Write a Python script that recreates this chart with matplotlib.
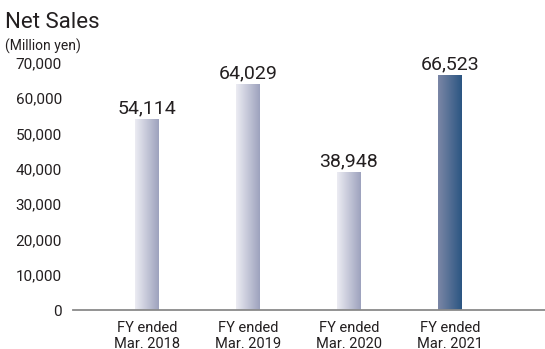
import numpy as np
import matplotlib
matplotlib.use("Agg")
import matplotlib.pyplot as plt
from matplotlib.colors import LinearSegmentedColormap
from matplotlib.lines import Line2D

categories = ["FY ended\nMar. 2018", "FY ended\nMar. 2019", "FY ended\nMar. 2020", "FY ended\nMar. 2021"]
values = [54114, 64029, 38948, 66523]
yticks = [0, 10000, 20000, 30000, 40000, 50000, 60000, 70000]

plt.rcParams['font.family'] = ['Roboto', 'DejaVu Sans']
txt = '#231f20'

fig = plt.figure(figsize=(5.45, 3.49), dpi=100)
ax = fig.add_axes([73/545, 1-310/349, 472/545, 247/349])

x = np.arange(len(values))
bars = ax.bar(x, values, width=0.23, color='none', edgecolor='none')

cm_light = LinearSegmentedColormap.from_list('l', ['#ececf3', '#9da2bd'])
cm_dark = LinearSegmentedColormap.from_list('d', ['#7b87a6', '#2b5582'])
grad = np.linspace(0, 1, 256).reshape(1, -1)
for i, b in enumerate(bars):
    cmap = cm_dark if i == len(bars) - 1 else cm_light
    x0, w, h = b.get_x(), b.get_width(), b.get_height()
    ax.imshow(grad, extent=[x0, x0 + w, 0, h], aspect='auto', cmap=cmap, zorder=2)
    ax.text(b.get_x() + w / 2, h + 600, f"{int(h):,}", ha='center', va='bottom',
            fontsize=14, color=txt)

ax.set_xlim(-0.73, -0.73 + 472/101)
ax.set_ylim(0, 70000)
ax.set_yticks(yticks)
ax.set_yticklabels([f"{v:,}" for v in yticks], fontsize=11, color=txt)
ax.set_xticks(x)
ax.set_xticklabels(categories, fontsize=10.5, color=txt, linespacing=1.15)
ax.tick_params(axis='both', length=0)
ax.tick_params(axis='y', pad=8)
ax.tick_params(axis='x', pad=8)
for s in ['top', 'right', 'left', 'bottom']:
    ax.spines[s].set_visible(False)
ax.patch.set_alpha(0)

# baseline across to the right edge
fig.add_artist(Line2D([73/545, 1.0], [1-310/349, 1-310/349], transform=fig.transFigure,
                      color='#8a8a8a', linewidth=1.3, zorder=3))

fig.text(5/545, 1-23/349, "Net Sales", fontsize=16, color=txt, va='center', ha='left')
fig.text(5/545, 1-46/349, "(Million yen)", fontsize=10, color=txt, va='center', ha='left')

fig.savefig("out.png", dpi=100)
